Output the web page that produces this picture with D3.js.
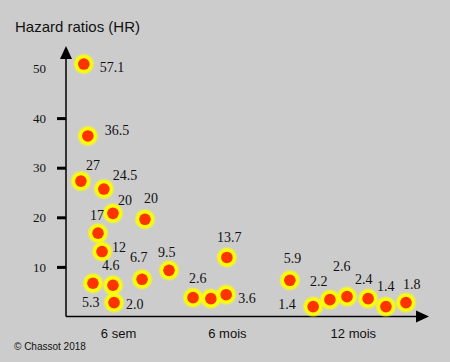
<!DOCTYPE html>
<html>
<head>
<meta charset="utf-8">
<title>Hazard ratios (HR)</title>
<script src="https://cdn.jsdelivr.net/npm/d3@7"></script>
<style>
  body { margin: 0; background: #cccccc; }
  svg { display: block; }
</style>
</head>
<body>
<div id="chart"></div>
<script>
// categories on the x axis
var groups = ["6 sem", "6 mois", "12 mois"];
var groupCenters = [14.3, 44.2, 78.8];

// one entry per point: group, position inside the axis (0-100), plotted height, printed HR
var pointGroup = [0, 0, 0, 0, 0, 0, 0, 0, 0, 0, 0, 0, 0, 1, 1, 1, 1, 2, 2, 2, 2, 2, 2, 2];
var pointX = [4.9, 6.0, 4.1, 10.4, 12.9, 21.7, 8.8, 9.9, 12.9, 7.4, 13.2, 20.9, 28.3,
              34.9, 39.8, 44.0, 44.2, 61.5, 67.9, 72.5, 77.2, 83.0, 87.9, 93.4];
var pointY = [50.9, 36.4, 27.3, 25.7, 20.8, 19.6, 16.8, 13.1, 6.3, 6.7, 2.8, 7.5, 9.3,
              3.8, 3.6, 4.4, 11.9, 7.3, 2.0, 3.4, 4.0, 3.6, 2.0, 2.8];
var hrLabels = ["57.1", "36.5", "27", "24.5", "20", "20", "17", "12", "4.6", "5.3", "2.0", "6.7", "9.5",
                "2.6", "", "3.6", "13.7", "5.9", "1.4", "2.2", "2.6", "2.4", "1.4", "1.8"];

var yTicks = [10, 20, 30, 40, 50];

// where each number sits relative to its dot (pixels)
var labelShift = [[16, 3], [17, -6], [5, -16], [9, -14], [5, -13], [-1, -21], [-8, -18], [10, -5],
                  [-11, -20], [-11, 19], [12, 1], [-12, -22], [-11, -18], [-4, -20], [0, 0], [12, 3],
                  [-10, -20], [-6, -22], [-35, -3], [-20, -19], [-14, -31], [-13, -20], [-9, -21], [-3, -19]];

var width = 450, height = 362;
var svg = d3.select("#chart").append("svg")
    .attr("width", width)
    .attr("height", height);

svg.append("rect").attr("width", width).attr("height", height).attr("fill", "#cccccc");

var x = d3.scaleLinear().domain([0, 100]).range([66, 430]);
var y = d3.scaleLinear().domain([0, 50]).range([316.5, 68.5]);

// glow for the dots
var defs = svg.append("defs");
var grad = defs.append("radialGradient").attr("id", "glow");
grad.append("stop").attr("offset", "0%").attr("stop-color", "#ffff00");
grad.append("stop").attr("offset", "72%").attr("stop-color", "#ffff00");
grad.append("stop").attr("offset", "100%").attr("stop-color", "#ffff00").attr("stop-opacity", 0);

var fontSans = "Arial, 'Liberation Sans', sans-serif";
var fontSerif = "'Times New Roman', 'Liberation Serif', serif";

// title
svg.append("text")
    .attr("x", 15).attr("y", 32)
    .attr("font-family", fontSans).attr("font-size", "15px")
    .attr("fill", "#111")
    .text("Hazard ratios (HR)");

// y axis
var yAxis = svg.append("g")
    .attr("transform", "translate(66,0)")
    .call(d3.axisLeft(y).tickValues(yTicks).tickSize(9).tickPadding(11).tickFormat(d3.format("d")));
yAxis.select(".domain").remove();
yAxis.selectAll(".tick line").attr("stroke", "#000").attr("stroke-width", 3)
    .attr("display", function(d) { return d === 50 ? "none" : null; });
yAxis.selectAll(".tick text")
    .attr("font-family", fontSerif).attr("font-size", "13px").attr("fill", "#111");

svg.append("line")
    .attr("x1", 66).attr("x2", 66).attr("y1", y(0)).attr("y2", 56)
    .attr("stroke", "#000").attr("stroke-width", 1.5);
svg.append("path")
    .attr("d", "M66,46 L72,59 L60,59 Z")
    .attr("fill", "#000");

// x axis
var xAxis = svg.append("g")
    .attr("transform", "translate(0," + y(0) + ")")
    .call(d3.axisBottom(x).tickValues(groupCenters).tickSize(0).tickPadding(12)
        .tickFormat(function(d, i) { return groups[i]; }));
xAxis.select(".domain").remove();
xAxis.selectAll(".tick text")
    .attr("font-family", fontSans).attr("font-size", "13px").attr("fill", "#111");

svg.append("line")
    .attr("x1", 66).attr("x2", 418).attr("y1", y(0)).attr("y2", y(0))
    .attr("stroke", "#000").attr("stroke-width", 1.5);
svg.append("path")
    .attr("d", "M429," + y(0) + " L416," + (y(0) - 6) + " L416," + (y(0) + 6) + " Z")
    .attr("fill", "#000");

// points
var points = pointX.map(function(px, i) {
    return { group: pointGroup[i], x: px, y: pointY[i], label: hrLabels[i], shift: labelShift[i] };
});

var dots = svg.selectAll(".dot")
    .data(points)
    .enter()
    .append("g")
    .attr("class", "dot")
    .attr("transform", function(d) { return "translate(" + x(d.x) + "," + y(d.y) + ")"; });

dots.append("circle").attr("r", 11).attr("fill", "url(#glow)");
dots.append("circle").attr("r", 5.8).attr("fill", "#ff3300");

svg.selectAll(".hr")
    .data(points)
    .enter()
    .append("text")
    .attr("class", "hr")
    .attr("x", function(d) { return x(d.x) + d.shift[0]; })
    .attr("y", function(d) { return y(d.y) + d.shift[1] + 5; })
    .attr("font-family", fontSerif).attr("font-size", "14px").attr("fill", "#111")
    .text(function(d) { return d.label; });

// credit
svg.append("text")
    .attr("x", 14).attr("y", 350)
    .attr("font-family", fontSans).attr("font-size", "10px").attr("fill", "#111")
    .text("\u00a9 Chassot 2018");
</script>
</body>
</html>
